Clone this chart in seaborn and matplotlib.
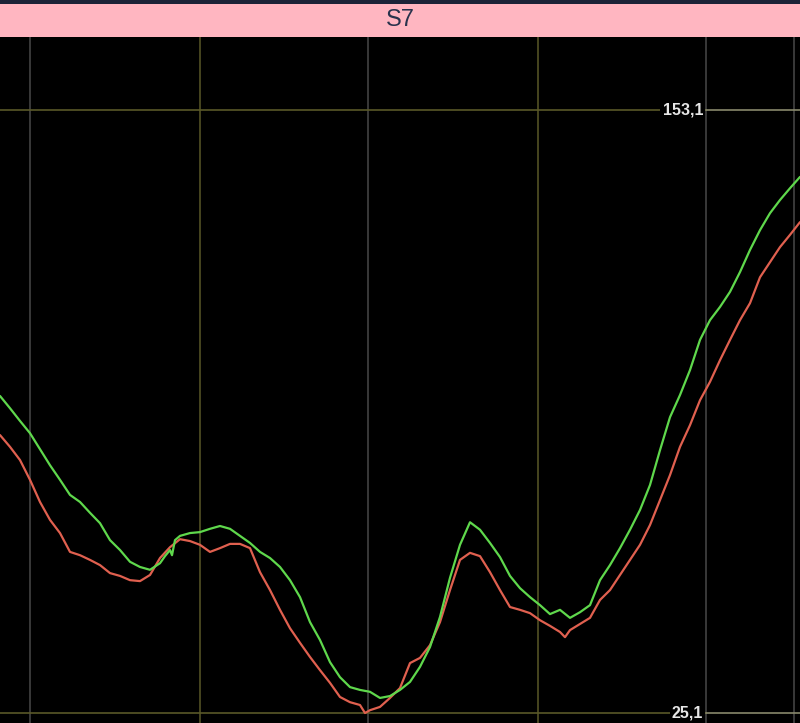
import matplotlib
matplotlib.use("Agg")
import matplotlib.pyplot as plt
import seaborn as sns
import pandas as pd

# green series (faster line)
green_x = [0, 10, 20, 30, 40, 50, 60, 70, 80, 90, 100, 110, 120, 130, 140, 150, 160,
           165, 170, 172, 175, 180, 190, 200, 210, 220, 230, 240, 250, 260, 270, 280,
           290, 300, 310, 320, 330, 340, 350, 360, 370, 380, 390, 400, 410, 420, 430,
           440, 450, 460, 470, 480, 490, 500, 510, 520, 530, 540, 550, 560, 570, 580,
           590, 600, 610, 620, 630, 640, 650, 660, 670, 680, 690, 700, 710, 720, 730,
           740, 750, 760, 770, 780, 790, 800]
green_y = [92.4, 89.8, 87.1, 84.5, 81.1, 77.7, 74.6, 71.4, 69.9, 67.6, 65.4, 61.8, 59.7,
           57.2, 56.1, 55.5, 56.9, 58.4, 59.7, 58.6, 61.8, 62.7, 63.3, 63.5, 64.2, 64.8,
           64.2, 62.7, 61.2, 59.3, 58.0, 56.1, 53.3, 49.7, 44.4, 40.6, 35.9, 32.7, 30.6,
           30.0, 29.6, 28.3, 28.7, 30.0, 31.7, 34.9, 39.1, 45.5, 53.8, 60.8, 65.6, 64.0,
           61.2, 58.2, 54.2, 51.6, 49.7, 48.0, 46.1, 47.0, 45.3, 46.5, 48.0, 53.3, 56.5,
           60.1, 64.0, 68.2, 73.5, 80.9, 87.9, 92.6, 97.9, 104.3, 108.5, 111.3, 114.5,
           118.7, 123.4, 127.6, 131.2, 134.0, 136.5, 138.9]

# red series (slower line)
red_x = [0, 10, 20, 30, 40, 50, 60, 70, 80, 90, 100, 110, 120, 130, 140, 150, 160, 170,
         180, 190, 200, 210, 220, 230, 240, 250, 260, 270, 280, 290, 300, 310, 320, 330,
         340, 350, 360, 365, 370, 380, 390, 400, 410, 420, 430, 440, 450, 460, 470, 480,
         490, 500, 510, 520, 530, 540, 550, 560, 565, 570, 580, 590, 600, 610, 620, 630,
         640, 650, 660, 670, 680, 690, 700, 710, 720, 730, 740, 750, 760, 770, 780, 790, 800]
red_y = [84.1, 81.6, 78.8, 74.6, 69.9, 66.1, 63.3, 59.3, 58.6, 57.6, 56.5, 54.8, 54.2,
         53.3, 53.1, 54.4, 58.0, 60.3, 62.0, 61.6, 60.8, 59.3, 60.1, 61.0, 61.0, 60.1,
         55.0, 51.2, 47.0, 43.1, 40.0, 37.0, 34.2, 31.5, 28.5, 27.4, 26.8, 25.1, 25.7,
         26.4, 28.3, 30.4, 35.7, 36.8, 39.5, 44.4, 51.2, 57.6, 59.1, 58.4, 55.0, 51.2,
         47.6, 47.0, 46.3, 44.8, 43.6, 42.3, 41.2, 42.7, 44.0, 45.3, 49.1, 51.2, 54.4,
         57.6, 60.8, 65.0, 70.3, 75.6, 81.6, 86.2, 91.5, 95.4, 100.0, 104.3, 108.5, 112.1,
         117.6, 120.8, 124.0, 126.6, 129.3]

title = "S7"
level_values = [153.1, 25.1]
level_labels = ["153,1", "25,1"]

df_green = pd.DataFrame({"x": green_x, "y": green_y})
df_red = pd.DataFrame({"x": red_x, "y": red_y})

sns.set_style("dark")
plt.rcParams['font.family'] = ['Liberation Sans', 'DejaVu Sans']

fig = plt.figure(figsize=(8, 7.23), dpi=100)
fig.patch.set_facecolor("black")

H = 723.0
# main chart area
ax = fig.add_axes([0, 0, 1, 686 / H])
ax.set_facecolor("black")
for s in ax.spines.values():
    s.set_visible(False)
ax.set_xticks([])
ax.set_yticks([])
ax.grid(False)

grid_grey = "#484848"
grid_olive = "#5a5828"
for gx, col in [(30, grid_grey), (200, grid_olive), (368, grid_grey), (538, grid_olive), (706, grid_grey), (794, grid_grey)]:
    ax.axvline(gx, color=col, lw=1.1, zorder=1)
for lv in level_values:
    ax.axhline(lv, xmax=706 / 800, color=grid_olive, lw=1.2, zorder=1)
    ax.axhline(lv, xmin=706 / 800, color="#88886c", lw=1.2, zorder=1)

sns.lineplot(data=df_red, x="x", y="y", ax=ax, color="#e0604f", lw=1.6, zorder=3)
sns.lineplot(data=df_green, x="x", y="y", ax=ax, color="#5fd84c", lw=1.6, zorder=4)

for lv, lab in zip(level_values, level_labels):
    ax.text(703, lv, lab, ha="right", va="center", color="#e6e6e6", fontsize=11.5,
            fontweight="bold", zorder=5,
            bbox=dict(facecolor="black", edgecolor="none", pad=1.5))

ax.set_xlim(0, 800)
ax.set_ylim(22.98, 168.6)
ax.set_xlabel("")
ax.set_ylabel("")

# title bar
tax = fig.add_axes([0, 686 / H, 1, 33 / H])
tax.set_facecolor("#ffb6c1")
tax.set_xticks([])
tax.set_yticks([])
for s in tax.spines.values():
    s.set_visible(False)
tax.text(0.5, 0.5, title, ha="center", va="center", fontsize=17, color="#28324c",
         transform=tax.transAxes)

# dark strip on top
sax = fig.add_axes([0, 719 / H, 1, 4 / H])
sax.set_facecolor("#1c2338")
sax.set_xticks([])
sax.set_yticks([])
for s in sax.spines.values():
    s.set_visible(False)

plt.savefig("out.png", dpi=100, facecolor="black")
